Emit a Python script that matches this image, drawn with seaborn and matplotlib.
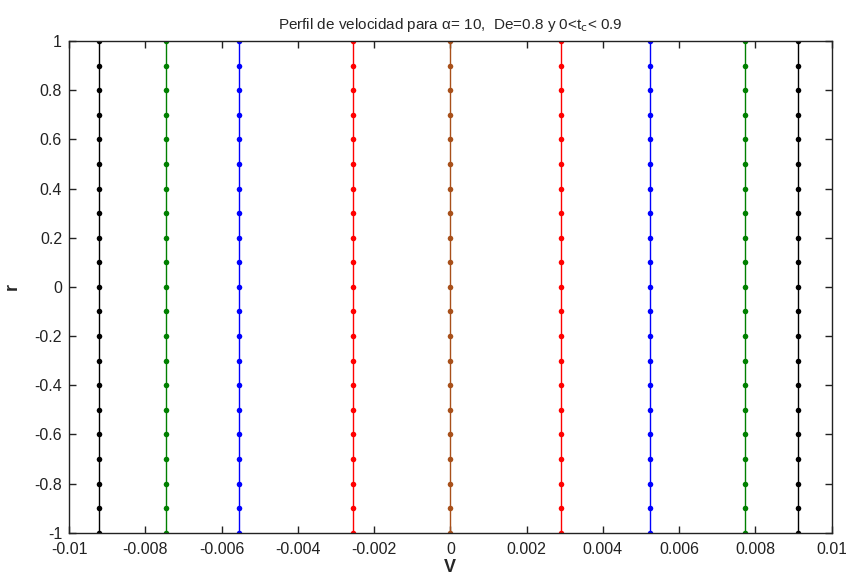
import numpy as np
import pandas as pd
import matplotlib
matplotlib.use("Agg")
import matplotlib.pyplot as plt
import seaborn as sns

# Data
profiles = ["p1", "p2", "p3", "p4", "p5", "p6", "p7", "p8", "p9"]
v_values = [-0.00922, -0.00746, -0.00553, -0.00254, 0.0, 0.00290, 0.00524, 0.00772, 0.00911]
colors = ["#000000", "#008000", "#0000ff", "#ff0000", "#a8501a",
          "#ff0000", "#0000ff", "#008000", "#000000"]
r_values = [-1.0, -0.9, -0.8, -0.7, -0.6, -0.5, -0.4, -0.3, -0.2, -0.1, 0.0,
            0.1, 0.2, 0.3, 0.4, 0.5, 0.6, 0.7, 0.8, 0.9, 1.0]
x_ticks = [-0.01, -0.008, -0.006, -0.004, -0.002, 0, 0.002, 0.004, 0.006, 0.008, 0.01]
x_ticklabels = ["-0.01", "-0.008", "-0.006", "-0.004", "-0.002", "0",
                "0.002", "0.004", "0.006", "0.008", "0.01"]
y_ticks = [-1, -0.8, -0.6, -0.4, -0.2, 0, 0.2, 0.4, 0.6, 0.8, 1]
y_ticklabels = ["-1", "-0.8", "-0.6", "-0.4", "-0.2", "0", "0.2", "0.4", "0.6", "0.8", "1"]

rows = []
for p, v in zip(profiles, v_values):
    for r in r_values:
        rows.append({"profile": p, "V": v, "r": r})
df = pd.DataFrame(rows)

sns.set_theme(style="white")
plt.rcParams["font.family"] = ["Liberation Sans", "DejaVu Sans"]

fig = plt.figure(figsize=(8.46, 5.81), dpi=100)
ax = fig.add_axes([69 / 846, 1 - 532.7 / 581, (831.7 - 69) / 846, (532.7 - 41) / 581])

sns.lineplot(data=df, x="V", y="r", hue="profile", palette=dict(zip(profiles, colors)),
             sort=False, estimator=None, orient="y", marker="o", markersize=4,
             markeredgewidth=0, linewidth=1.0, legend=False, ax=ax)

ax.set_xlim(-0.01, 0.01)
ax.set_ylim(-1, 1)
ax.set_xticks(x_ticks)
ax.set_xticklabels(x_ticklabels)
ax.set_yticks(y_ticks)
ax.set_yticklabels(y_ticklabels)
ax.tick_params(direction="in", length=5, width=1, color="#222222",
               top=True, right=True, bottom=True, left=True,
               labelsize=11.5, labelcolor="#222222")
ax.tick_params(axis="x", pad=7)
ax.tick_params(axis="y", pad=5)
for s in ax.spines.values():
    s.set_visible(True)
    s.set_color("#222222")
    s.set_linewidth(1)
ax.grid(False)

ax.set_xlabel("V", fontsize=13, fontweight="bold", labelpad=1)
ax.set_ylabel("r", fontsize=13, fontweight="bold", labelpad=10)
ax.set_title("Perfil de velocidad para α= 10,  De=0.8 y 0<t$_\\mathrm{c}$< 0.9",
             fontsize=11, pad=9)

fig.savefig("out.png", dpi=100)
